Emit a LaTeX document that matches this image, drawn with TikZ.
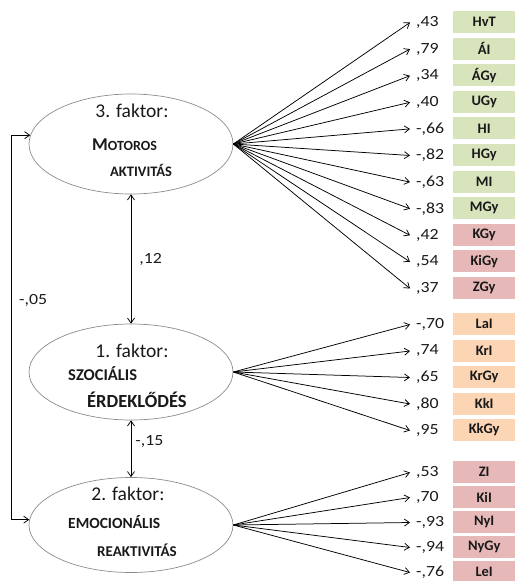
\documentclass[tikz,border=0pt]{standalone}
\usepackage{fontspec}
\setmainfont{Carlito}
\usetikzlibrary{shapes.geometric,arrows.meta}
\definecolor{gbox}{RGB}{216,228,188}
\definecolor{pbox}{RGB}{230,185,184}
\definecolor{obox}{RGB}{252,213,181}
\definecolor{ecol}{RGB}{140,140,140}
\definecolor{txt}{RGB}{25,25,25}
\newcommand{\mystretch}[1]{\scalebox{1.15}[1]{#1}}
\tikzset{
 fac/.style={ellipse, draw=ecol, line width=0.7pt, minimum width=204pt, minimum height=100pt, inner sep=0pt},
 arr/.style={-{Straight Barb[length=5pt,width=7pt]}, line width=0.75pt},
 darr/.style={{Straight Barb[length=5pt,width=7pt]}-{Straight Barb[length=5pt,width=7pt]}, line width=0.75pt},
 val/.style={anchor=west, inner xsep=6pt, inner ysep=1pt, text=txt, font=\fontsize{15.5}{15}\selectfont},
 corr/.style={anchor=west, inner sep=0pt, text=txt, font=\fontsize{15.5}{15}\selectfont},
 ind/.style={minimum width=62pt, minimum height=22pt, inner sep=0pt, anchor=west, text=txt, font=\bfseries\fontsize{14.5}{14}\selectfont},
 ttl/.style={anchor=base, text=txt, inner sep=0pt, font=\fontsize{19.5}{20}\selectfont},
 captxt/.style={anchor=base west, text=txt, inner sep=0pt, font=\bfseries},
}
\begin{document}
\begin{tikzpicture}[x=1pt,y=-1pt]
\useasboundingbox (0,0) rectangle (515,581);
% factors
\node[fac] (m) at (131,144) {};
\node[fac, minimum height=96pt] (s) at (131,372) {};
\node[fac, minimum height=95pt] (e) at (131,525) {};
% texts in factors
\node[ttl] (mt) at (132,117) {3. faktor:};
\node[captxt] (m1) at (92,150.5) {\fontsize{18}{18}\selectfont M\fontsize{14}{14}\selectfont OTOROS};
\node[captxt] (m2) at (110,176.5) {\fontsize{14.5}{14}\selectfont AKTIVITÁS};
\node[ttl] (st) at (132,357) {1. faktor:};
\node[captxt] (s1) at (68,380) {\fontsize{16.5}{16}\selectfont SZOCIÁLIS};
\node[captxt] (s2) at (87,407) {\fontsize{18.5}{18}\selectfont ÉRDEKLŐDÉS};
\node[ttl] (et) at (128,500) {2. faktor:};
\node[captxt] (e1) at (68,528) {\fontsize{15.5}{16}\selectfont EMOCIONÁLIS};
\node[captxt] (e2) at (97,556) {\fontsize{15}{16}\selectfont REAKTIVITÁS};
% group 1
\foreach \n/\t/\v/\c/\y in {a1/HvT/{,43}/gbox/22, a2/ÁI/{,79}/gbox/48.6, a3/ÁGy/{,34}/gbox/75.2, a4/UGy/{,40}/gbox/101.8, a5/HI/{-,66}/gbox/128.4, a6/HGy/{-,82}/gbox/155, a7/MI/{-,63}/gbox/181.6, a8/MGy/{-,83}/gbox/208.2, a9/KGy/{,42}/pbox/234.8, a10/KiGy/{,54}/pbox/261.4, a11/ZGy/{,37}/pbox/288}{
 \node[ind, fill=\c] (b\n) at (453,\y) {\t};
 \node[val] (v\n) at (410,\y+0.5) {\mystretch{\v}};
 \draw[arr] (m.east) -- (v\n.west);
}
% group 2
\foreach \n/\t/\v/\c/\y in {c1/LaI/{-,70}/obox/324, c2/KrI/{,74}/obox/350.5, c3/KrGy/{,65}/obox/377, c4/KkI/{,80}/obox/403.5, c5/KkGy/{,95}/obox/430}{
 \node[ind, fill=\c] (b\n) at (453,\y) {\t};
 \node[val] (v\n) at (410,\y+0.5) {\mystretch{\v}};
 \draw[arr] (s.east) -- (v\n.west);
}
% group 3
\foreach \n/\t/\v/\c/\y in {d1/ZI/{,53}/pbox/472, d2/KiI/{,70}/pbox/497, d3/NyI/{-,93}/pbox/522, d4/NyGy/{-,94}/pbox/547, d5/LeI/{-,76}/pbox/572}{
 \node[ind, fill=\c] (b\n) at (453,\y) {\t};
 \node[val] (v\n) at (410,\y+0.5) {\mystretch{\v}};
 \draw[arr] (e.east) -- (v\n.west);
}
% correlations
\draw[darr] (m.south) -- (s.north) node[midway, corr, xshift=8pt] (r12) {\mystretch{,12}};
\draw[darr] (s.south) -- (e.north) node[pos=0.37, corr, xshift=4pt] (r15) {\mystretch{-,15}};
\coordinate (lx) at (11,0);
\draw[darr] (m.175) -- (m.175 -| lx) -- (e.177 -| lx) -- (e.177);
\node[corr] (r05) at (19,300) {\mystretch{-,05}};
\end{tikzpicture}
\end{document}
